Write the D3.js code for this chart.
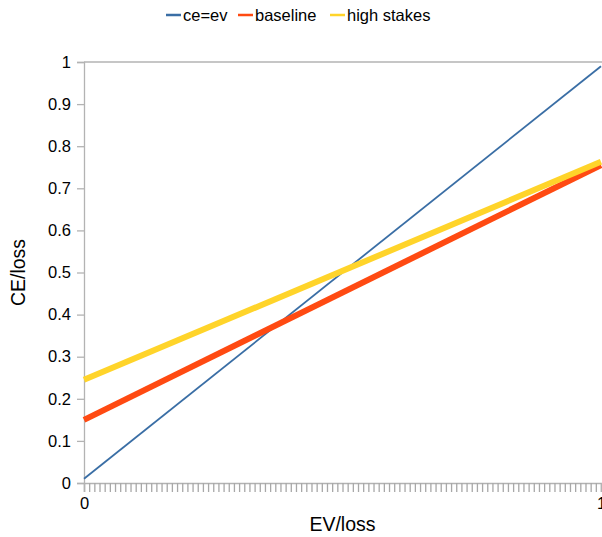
<!DOCTYPE html>
<html>
<head>
<meta charset="utf-8">
<script src="https://cdn.jsdelivr.net/npm/d3@7"></script>
<style>
html,body{margin:0;padding:0;background:#fff;}
svg{display:block;font-family:"Liberation Sans",Arial,Helvetica,sans-serif;}
</style>
</head>
<body>
<svg id="chart" width="602" height="537"></svg>
<script>
// Data
const seriesNames = ["ce=ev", "baseline", "high stakes"];
const seriesColors = ["#3a6ea5", "#ff4a12", "#ffd42a"];
const evPoints = [0, 1];
const ceEvValues = [0.01, 0.99];
const baselineValues = [0.15, 0.755];
const highStakesValues = [0.245, 0.763];
const yTickValues = [0, 0.1, 0.2, 0.3, 0.4, 0.5, 0.6, 0.7, 0.8, 0.9, 1];
const xLabelValues = [0, 1];
const xMinorTicks = d3.range(0, 101).map(i => i / 100);

const svg = d3.select("#chart");
const margin = {left: 84, right: 1, top: 62, bottom: 54};
const W = 602, H = 537;
const x = d3.scaleLinear().domain([0, 1]).range([margin.left, W - margin.right]);
const y = d3.scaleLinear().domain([0, 1]).range([H - margin.bottom, margin.top]);
const axisColor = "#b3b3b3";

// frame: top line
svg.append("line").attr("x1", x(0)).attr("x2", W).attr("y1", y(1)).attr("y2", y(1))
  .attr("stroke", axisColor).attr("stroke-width", 1.3);

// Y axis
const yAxis = d3.axisLeft(y).tickValues(yTickValues).tickSize(7).tickPadding(6)
  .tickFormat(d => d3.format("~g")(d));
const gy = svg.append("g").attr("transform", `translate(${x(0)},0)`).call(yAxis);
gy.select(".domain").attr("stroke", axisColor).attr("stroke-width", 1.3);
gy.selectAll(".tick line").attr("stroke", axisColor).attr("stroke-width", 1.3);
gy.selectAll(".tick text").attr("fill", "#000").style("font-size", "16.5px")
  .style("font-family", '"Liberation Sans",Arial,sans-serif');

// X axis minor ticks
const gxm = svg.append("g").attr("transform", `translate(0,${y(0)})`)
  .call(d3.axisBottom(x).tickValues(xMinorTicks).tickSize(9).tickFormat(""));
gxm.select(".domain").attr("stroke", axisColor).attr("stroke-width", 1.3);
gxm.selectAll(".tick line").attr("stroke", "#a8a8a8").attr("stroke-width", 1.3);

// X labels
const gx = svg.append("g").attr("transform", `translate(0,${y(0)})`)
  .call(d3.axisBottom(x).tickValues(xLabelValues).tickSize(9).tickPadding(5).tickFormat(d3.format("d")));
gx.select(".domain").remove();
gx.selectAll(".tick line").attr("stroke", axisColor).attr("stroke-width", 1.3);
gx.selectAll(".tick text").attr("fill", "#000").style("font-size", "16.5px")
  .style("font-family", '"Liberation Sans",Arial,sans-serif');

// Lines
const allSeries = [ceEvValues, baselineValues, highStakesValues];
const widths = [1.8, 6, 6];
const line = d3.line().x(d => x(d[0])).y(d => y(d[1]));
allSeries.forEach((vals, i) => {
  svg.append("path")
    .datum(evPoints.map((e, j) => [e, vals[j]]))
    .attr("d", line)
    .attr("fill", "none")
    .attr("stroke", seriesColors[i])
    .attr("stroke-width", widths[i]);
});

// Axis titles
svg.append("text").attr("x", (x(0) + x(1)) / 2).attr("y", 531)
  .attr("text-anchor", "middle").style("font-size", "19.5px").text("EV/loss");
svg.append("text").attr("transform", `translate(25,${(y(0) + y(1)) / 2}) rotate(-90)`)
  .attr("text-anchor", "middle").style("font-size", "19.5px").text("CE/loss");

// Legend
const legendX = [166, 238, 330];
const lg = svg.append("g");
seriesNames.forEach((name, i) => {
  lg.append("line").attr("x1", legendX[i]).attr("x2", legendX[i] + 15)
    .attr("y1", 15).attr("y2", 15).attr("stroke", seriesColors[i]).attr("stroke-width", 2.5);
  lg.append("text").attr("x", legendX[i] + 17).attr("y", 21)
    .style("font-size", "16.5px").text(name);
});
</script>
</body>
</html>
